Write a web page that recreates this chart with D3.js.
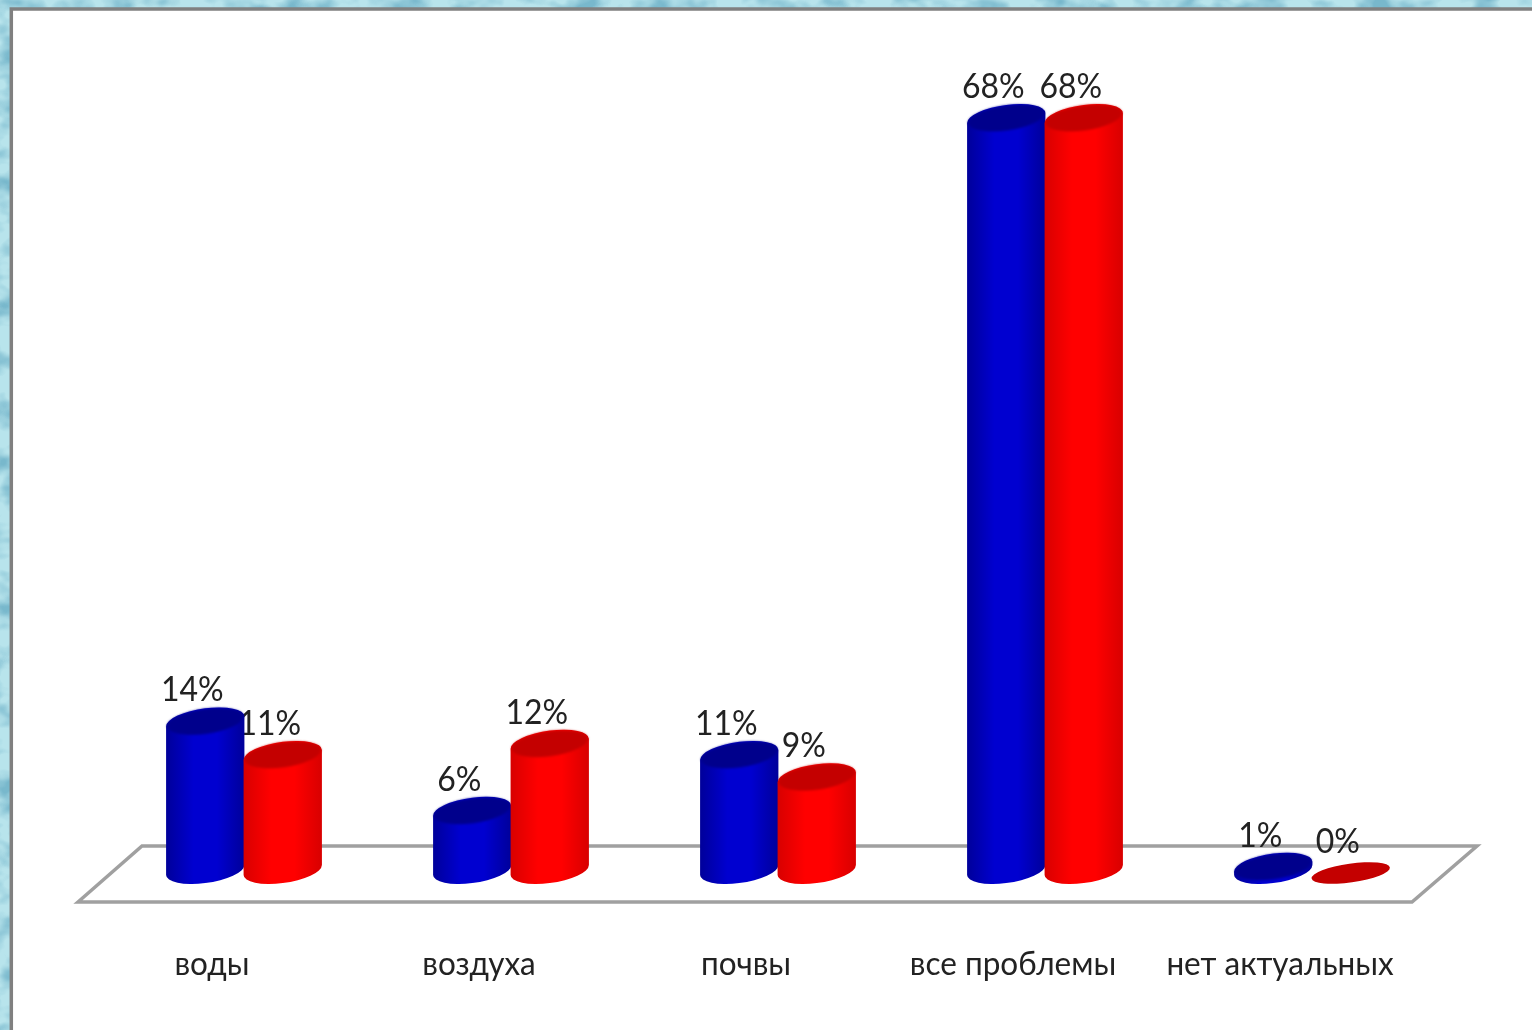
<!DOCTYPE html>
<html>
<head>
<meta charset="utf-8">
<script src="https://d3js.org/d3.v7.min.js"></script>
<style>
  html, body { margin: 0; padding: 0; background: #a9d9e3; overflow: hidden; }
  svg { display: block; }
  text { font-family: Lato, "Open Sans", sans-serif; fill: #222222; }
</style>
</head>
<body>
<svg id="chart" width="1532" height="1030"></svg>
<script>
const categories = ["воды", "воздуха", "почвы", "все проблемы", "нет актуальных"];
const seriesNames = ["a", "b"];
const blueValues = [14, 6, 11, 68, 1];
const redValues = [11, 12, 9, 68, 0];

const width = 1532;
const height = 1030;
const svg = d3.select("#chart");
const defs = svg.append("defs");

// Marbled backdrop behind the white panel
const texture = defs.append("filter").attr("id", "marble")
    .attr("color-interpolation-filters", "sRGB")
    .attr("x", 0).attr("y", 0).attr("width", "100%").attr("height", "100%");
texture.append("feTurbulence")
    .attr("type", "fractalNoise").attr("baseFrequency", "0.028 0.04")
    .attr("numOctaves", 3).attr("seed", 7);
texture.append("feColorMatrix").attr("type", "matrix")
    .attr("values", "0 0 0 0 0.47  0 0 0 0 0.72  0 0 0 0 0.80  3 0 0 0 -1.3");
texture.append("feComposite").attr("in2", "SourceGraphic").attr("operator", "over");

const soft = defs.append("filter").attr("id", "soft")
    .attr("x", "-5%").attr("y", "-5%").attr("width", "110%").attr("height", "110%");
soft.append("feGaussianBlur").attr("stdDeviation", 0.7);

const topBlur = defs.append("filter").attr("id", "top-blur")
    .attr("x", "-10%").attr("y", "-30%").attr("width", "120%").attr("height", "160%");
topBlur.append("feGaussianBlur").attr("stdDeviation", 1.3);

function cylinderGradient(id, edge, mid) {
    const g = defs.append("linearGradient").attr("id", id);
    g.append("stop").attr("offset", "0%").attr("stop-color", edge);
    g.append("stop").attr("offset", "35%").attr("stop-color", mid);
    g.append("stop").attr("offset", "65%").attr("stop-color", mid);
    g.append("stop").attr("offset", "100%").attr("stop-color", edge);
}
cylinderGradient("side-a", "#00009a", "#0000d0");
cylinderGradient("side-b", "#d80000", "#ff0000");
const topColor = { a: "#00008c", b: "#c40000" };

svg.append("rect").attr("width", width).attr("height", height)
    .attr("fill", "#b8e4ec").attr("filter", "url(#marble)");

svg.append("rect")
    .attr("x", 11.3).attr("y", 9).attr("width", width + 20).attr("height", height + 20)
    .attr("fill", "#ffffff").attr("stroke", "#808080").attr("stroke-width", 3.5);

const chart = svg.append("g").attr("filter", "url(#soft)");

const x = d3.scaleBand().domain(categories).range([110.5, 1445.5]);
const inner = d3.scaleBand().domain(seriesNames).range([-77.5, 77.5]);
const y = d3.scaleLinear().domain([0.7, 68]).range([870, 118]).clamp(true);

const rx = 39.5;
const ry = 13;
const tilt = -8 * Math.PI / 180;

// left/right extreme of a tilted ellipse, relative to its centre
const tx = Math.atan(-(ry / rx) * Math.tan(tilt));
const edge = {
    x: rx * Math.cos(tx) * Math.cos(tilt) - ry * Math.sin(tx) * Math.sin(tilt),
    y: rx * Math.cos(tx) * Math.sin(tilt) + ry * Math.sin(tx) * Math.cos(tilt),
};
const tiltDeg = tilt * 180 / Math.PI;

function sidePath(cx, yTop, yBase) {
    return `M${cx - edge.x},${yBase - edge.y}`
        + `A${rx},${ry} ${tiltDeg} 0 0 ${cx + edge.x},${yBase + edge.y}`
        + `L${cx + edge.x},${yTop + edge.y}`
        + `A${rx},${ry} ${tiltDeg} 0 0 ${cx - edge.x},${yTop - edge.y}Z`;
}

// Floor of the 3D plot
const floor = d3.line();
const floorBack = 846, floorFront = 902;
chart.append("path")
    .attr("d", floor([[78, floorFront], [142, floorBack], [1477, floorBack], [1412, floorFront]]) + "Z")
    .attr("fill", "#ffffff").attr("stroke", "#a0a0a0").attr("stroke-width", 3.5);

const rows = categories.flatMap((c, i) => [
    { c, s: "a", v: blueValues[i] },
    { c, s: "b", v: redValues[i] },
]);
const cx = (d) => x(d.c) + x.bandwidth() / 2 + inner(d.s) + inner.bandwidth() / 2;
const topY = (d) => (d.v === 0 ? y(d.v) + 3 : y(d.v));

// labels go under the bars, the first 1 of 11% is clipped by the blue bar
chart.append("g").selectAll("text").data(rows).join("text")
    .attr("transform", (d) => `translate(${cx(d) - 13},${topY(d) - 20}) scale(0.94,1)`)
    .attr("text-anchor", "middle")
    .attr("font-size", 34)
    .text((d) => d.v + "%");

const bar = chart.append("g").selectAll("g").data(rows).join("g");
bar.filter((d) => d.v > 0).append("path")
    .attr("d", (d) => sidePath(cx(d), y(d.v), y.range()[0]))
    .attr("fill", (d) => `url(#side-${d.s})`);
bar.append("ellipse")
    .attr("rx", (d) => (d.v === 0 ? rx : rx - 1))
    .attr("ry", (d) => (d.v === 0 ? ry * 0.72 : ry - 0.5))
    .attr("transform", (d) => `translate(${cx(d)},${topY(d)}) rotate(${tiltDeg})`)
    .attr("fill", (d) => topColor[d.s])
    .attr("filter", (d) => (d.v === 0 ? null : "url(#top-blur)"));

chart.append("g").selectAll("text").data(categories).join("text")
    .attr("transform", (d) => `translate(${x(d) + x.bandwidth() / 2 - 32},975) scale(0.955,1)`)
    .attr("text-anchor", "middle")
    .attr("font-size", 33)
    .text((d) => d);
</script>
</body>
</html>
